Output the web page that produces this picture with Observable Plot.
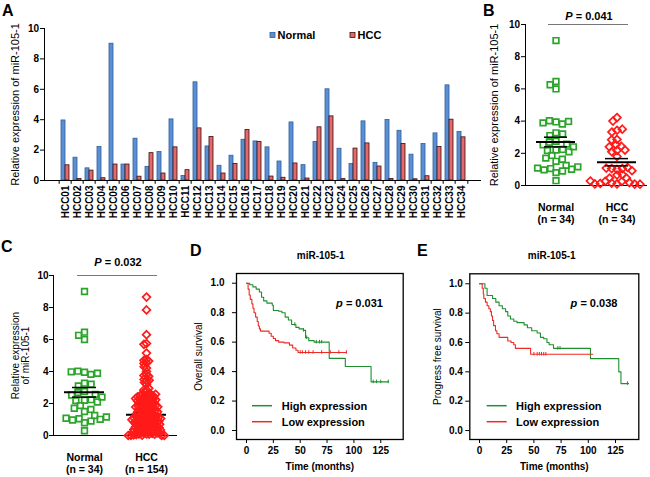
<!DOCTYPE html>
<html><head><meta charset="utf-8">
<script src="https://cdn.jsdelivr.net/npm/d3@7"></script>
<script src="https://cdn.jsdelivr.net/npm/@observablehq/plot@0.6"></script>
<style>
html,body{margin:0;padding:0;background:#fff;}
#fig{position:relative;width:650px;height:477px;overflow:hidden;background:#fff;font-family:"Liberation Sans",Arial,sans-serif;}
.pane{position:absolute;}
.pane svg{background:none !important;overflow:visible;max-width:none !important;}
g[aria-label="y-axis label"]{font-weight:normal;}
.biglab g[aria-label="y-axis label"]{font-size:11px;}
</style>
</head><body><div id="fig"></div>
<script>
// ---------- DATA ----------
const cats = ["HCC01","HCC02","HCC03","HCC04","HCC05","HCC06","HCC07","HCC08","HCC09","HCC10","HCC11","HCC12","HCC13","HCC14","HCC15","HCC16","HCC17","HCC18","HCC19","HCC20","HCC21","HCC22","HCC23","HCC24","HCC25","HCC26","HCC27","HCC28","HCC29","HCC30","HCC31","HCC32","HCC33","HCC34"];
const normalVals = [3.95,1.5,0.8,2.2,9.0,1.05,2.75,0.9,1.87,4.02,0.3,6.46,2.24,0.97,1.63,2.68,2.57,2.18,1.25,3.82,1.01,2.53,6.0,2.09,1.08,3.89,1.16,3.98,3.27,1.7,2.4,3.1,6.26,3.2];
const hccVals = [1.0,0.1,0.65,0.15,1.05,1.05,0.25,1.8,0.46,2.18,0.68,3.43,2.86,0.46,1.08,3.32,2.53,0.26,0.18,1.12,0.13,3.5,4.22,0.09,2.1,2.44,0.92,0.1,2.4,0.08,0.28,2.2,4.0,2.84];
// remaining 120 HCC cohort samples (panel C, n = 154)
const hccCohortExtra = [8.65,7.85,6.3,5.75,5.7,5.15,4.75,4.7,4.65,4.55,4.5,4.3,3.8,3.75,3.7,3.45,3.2,2.95,2.7,
  2.61,2.57,2.54,2.49,2.46,2.42,2.37,2.34,2.29,2.26,2.23,2.16,2.12,2.08,2.05,2.03,2.31,2.58,
  1.99,1.97,1.94,1.91,1.89,1.86,1.83,1.81,1.78,1.76,1.74,1.71,1.68,1.66,1.63,1.61,1.58,1.56,1.54,1.52,1.5,1.79,
  1.48,1.46,1.43,1.4,1.37,1.34,1.31,1.28,1.25,1.22,1.19,1.17,1.14,1.11,1.09,1.06,1.03,1.01,1.36,
  0.99,0.96,0.94,0.91,0.89,0.87,0.84,0.81,0.78,0.76,0.73,0.71,0.67,0.64,0.62,0.59,0.57,0.55,0.53,0.51,0.82,0.7,
  0.49,0.47,0.44,0.41,0.39,0.37,0.35,0.33,0.31,0.23,0.21,0.16,0.12,0.06,0.04,0.02,0.0,0.0,0.0,0.0];
const groups = ["Normal","HCC"];
const statsB = {mean: [2.7, 1.45], hi: [3.0, 1.67], lo: [2.4, 1.22]};
const statsC = {mean: [2.7, 1.3], hi: [3.0, 1.43], lo: [2.4, 1.17]};
const nB = ["(n = 34)", "(n = 34)"];
const nC = ["(n = 34)", "(n = 154)"];
const yTicks10 = [0,2,4,6,8,10];
const survTicks = [0,0.2,0.4,0.6,0.8,1.0];
const timeTicks = [0,25,50,75,100,125];
// D: overall survival
const dHighT = [0,3,6,9,12,14,16,19,24,25,30,33,36,39,42,46,49,53,55,58,63,77,92,116,132];
const dHighS = [1.0,0.99,0.975,0.96,0.94,0.905,0.88,0.865,0.85,0.815,0.81,0.80,0.77,0.75,0.72,0.70,0.69,0.68,0.63,0.61,0.60,0.49,0.435,0.33,0.33];
const dHighCens = [45,53,56,65,68,70,118,121,125,132];
const dLowT = [0,1.5,2.5,3.5,5,6,7,8.5,10,11,12,13,21,23,25,27,30,35,40,43,46,48,93];
const dLowS = [1.0,0.96,0.92,0.89,0.86,0.83,0.80,0.77,0.74,0.71,0.69,0.675,0.66,0.64,0.625,0.61,0.60,0.595,0.58,0.56,0.545,0.53,0.53];
const dLowCens = [50,52,55,58,62,70,78,86,93];
// E: progress free survival
const eHighT = [0,5,7,12,15,18,21,24,26,28.5,31.5,34.5,41,44,48,53,56,59,62,64,68,102,128,130,137];
const eHighS = [1.0,0.97,0.92,0.90,0.875,0.85,0.83,0.81,0.78,0.76,0.745,0.735,0.72,0.70,0.68,0.665,0.635,0.625,0.60,0.585,0.56,0.49,0.40,0.32,0.32];
const eHighCens = [72,74,136];
const eLowT = [0,2.5,3.5,4,5.5,7,8.6,10,11,12,13,14.7,16,18,26,29,31.5,33,47,104];
const eLowS = [1.0,0.97,0.93,0.90,0.875,0.85,0.83,0.81,0.78,0.75,0.715,0.68,0.66,0.635,0.61,0.60,0.585,0.56,0.52,0.52];
const eLowCens = [50,53,55,57,59,61];

// ---------- STYLE ----------
const FONT = '"Liberation Sans", Arial, sans-serif';
const GREEN = "#2aa52a", RED = "#ff1a1a";
const KM_GREEN = "#1f8f2f", KM_RED = "#ee2a24";
const baseStyle = {fontFamily: FONT, fontSize: "10px", fontWeight: "bold", background: "none", overflow: "visible", color: "#000"};
const fig = document.getElementById("fig");
function place(node, left, top, cls) {
  const d = document.createElement("div");
  d.className = "pane" + (cls ? " " + cls : ""); d.style.left = left + "px"; d.style.top = top + "px";
  d.appendChild(node); fig.appendChild(d);
}

// ---------- PANEL A ----------
const aRows = cats.map((c, i) => ({cat: c, normal: normalVals[i], hcc: hccVals[i]}));
const aW = 490, aML = 44, aMR = 9, pIn = 0.37, pOut = 0.42;
const aStep = (aW - aML - aMR) / (cats.length - pIn + 2 * pOut);
const aBW = aStep * (1 - pIn);
place(Plot.plot({
  width: aW, height: 240, marginLeft: aML, marginRight: aMR, marginTop: 28, marginBottom: 60,
  style: baseStyle,
  x: {domain: cats, paddingInner: pIn, paddingOuter: pOut, tickRotate: -90, tickSize: 0, tickPadding: 5, label: null},
  y: {domain: [0, 10], ticks: yTicks10, tickSize: 4, tickPadding: 1.5, line: true,
      label: "Relative expression of miR-105-1", labelAnchor: "center", labelOffset: 33, labelArrow: "none"},
  marks: [
    Plot.barY(aRows, {x: "cat", y: "normal", insetRight: aBW / 2, fill: "#5b8fd4", stroke: "#2f5f9e", strokeWidth: 0.8}),
    Plot.barY(aRows, {x: "cat", y: "hcc", insetLeft: aBW / 2, fill: "#e26a6a", stroke: "#3b0d0d", strokeWidth: 0.8}),
    Plot.ruleY([0]),
    Plot.ruleX(cats, {x: d => d, y1: 0, y2: -0.25, dx: -aStep / 2}),
    Plot.ruleX(cats.slice(-1), {x: d => d, y1: 0, y2: -0.25, dx: aStep / 2})
  ]
}), 0, 0, "biglab");

// ---------- SCATTER PANELS (B, C) ----------
function scatter(o) {
  const nRows = o.normal.map(v => ({g: "Normal", v}));
  const hRows = o.hcc.map(v => ({g: "HCC", v}));
  const st = groups.map((g, i) => ({g, mean: o.stats.mean[i], hi: o.stats.hi[i], lo: o.stats.lo[i]}));
  const lab = groups.map((g, i) => ({g, t: g + "\n" + o.nLab[i]}));
  const statMarks = (rows) => [
    Plot.ruleX(rows, {fx: "g", y1: "lo", y2: "hi", stroke: "#000", strokeWidth: 1.5}),
    Plot.ruleY(rows, {fx: "g", y: "mean", insetLeft: o.mi, insetRight: o.mi, stroke: "#000", strokeWidth: 2}),
    Plot.ruleY(rows, {fx: "g", y: "hi", insetLeft: o.si, insetRight: o.si, stroke: "#000", strokeWidth: 1.5}),
    Plot.ruleY(rows, {fx: "g", y: "lo", insetLeft: o.si, insetRight: o.si, stroke: "#000", strokeWidth: 1.5})
  ];
  const below = o.statsBelowHcc ? st.filter(d => d.g === "HCC") : [];
  const above = o.statsBelowHcc ? st.filter(d => d.g !== "HCC") : st;
  return Plot.plot({
    width: o.width, height: o.height, marginLeft: o.ml, marginRight: o.mr, marginTop: o.mt, marginBottom: o.mb,
    style: baseStyle,
    fx: {domain: groups, padding: 0, axis: null, label: null},
    y: {domain: [0, 10], ticks: yTicks10, tickSize: 4, tickPadding: o.tp, line: true,
        label: o.yLabel, labelAnchor: "center", labelOffset: o.lo, labelArrow: "none"},
    marks: [
      Plot.ruleY([0]),
      Plot.ruleY([{g: "Normal", y: 10}], {fx: "g", y: "y", insetLeft: o.br[0], stroke: "#777"}),
      Plot.ruleY([{g: "HCC", y: 10}], {fx: "g", y: "y", insetRight: o.br[1], stroke: "#777"}),
      ...statMarks(below),
      Plot.dot(nRows, Plot.dodgeX({anchor: "middle", ...o.dodgeN}, {fx: "g", y: "v", symbol: "square", r: 3.2, fill: "none", stroke: GREEN, strokeWidth: 1.7})),
      Plot.dot(hRows, Plot.dodgeX({anchor: "middle", ...o.dodgeH}, {fx: "g", y: "v", symbol: "diamond2", r: 3.5, fill: "none", stroke: RED, strokeWidth: 1.7})),
      ...statMarks(above),
      Plot.text(lab, {fx: "g", text: "t", frameAnchor: "bottom", lineAnchor: "top", dy: o.ldy, fontSize: 10.5, lineHeight: 1.22})
    ]
  });
}
place(scatter({width: 170, height: 232, ml: 45, mr: 3, mt: 24, mb: 47, tp: 1.5, lo: 35,
  yLabel: "Relative expression of miR-105-1", normal: normalVals, hcc: hccVals, stats: statsB, nLab: nB,
  dodgeN: {padding: 0.3}, dodgeH: {padding: -1.6}, br: [23, 19], mi: 11, si: 19, ldy: 16}), 480, 0, "biglab");
place(scatter({width: 185, height: 237, ml: 53, mr: 8, mt: 35, mb: 42, tp: 1, lo: 42,
  yLabel: "Relative expression\nof miR-105-1", normal: normalVals, hcc: hccVals.concat(hccCohortExtra), stats: statsC, nLab: nC,
  dodgeN: {padding: 0.3}, dodgeH: {padding: 0, r: 1.35}, br: [24, 20], mi: 11, si: 19, ldy: 16, statsBelowHcc: true}), 0, 240);

// ---------- KM PANELS (D, E) ----------
function stepRows(T, S) { return T.map((t, i) => ({t, s: S[i]})); }
function censRows(C, T, S) { return C.map(t => ({t, s: S[Math.max(0, d3.bisectRight(T, t) - 1)]})); }
function km(o) {
  return Plot.plot({
    width: o.width, height: 237, marginLeft: o.ml, marginRight: o.mr, marginTop: o.mt, marginBottom: o.mb,
    style: baseStyle,
    x: {domain: o.xd, ticks: timeTicks, tickSize: 4, tickPadding: 3, label: "Time (months)", labelAnchor: "center", labelOffset: 30, labelArrow: "none"},
    y: {domain: o.yd, ticks: survTicks, tickFormat: ".1f", tickSize: 4, tickPadding: o.tp, label: o.yLabel, labelAnchor: "center", labelOffset: o.lo, labelArrow: "none"},
    marks: [
      Plot.frame({stroke: "#000", strokeWidth: 1.3}),
      Plot.line(o.high, {x: "t", y: "s", curve: "step-after", stroke: KM_GREEN, strokeWidth: 1.1}),
      Plot.line(o.low, {x: "t", y: "s", curve: "step-after", stroke: KM_RED, strokeWidth: 1.1}),
      Plot.ruleX(o.highC, {x: "t", y1: d => d.s - 0.012, y2: d => d.s + 0.012, stroke: KM_GREEN}),
      Plot.ruleX(o.lowC, {x: "t", y1: d => d.s - 0.012, y2: d => d.s + 0.012, stroke: KM_RED})
    ]
  });
}
place(km({width: 225, ml: 46, mr: 12.3, mt: 33, mb: 38, tp: 8, lo: 42, xd: [-9.3, 145.9], yd: [-0.061, 1.066], yLabel: "Overall survival",
  high: stepRows(dHighT, dHighS), low: stepRows(dLowT, dLowS), highC: censRows(dHighCens, dHighT, dHighS), lowC: censRows(dLowCens, dLowT, dLowS)}), 190, 240);
place(km({width: 225, ml: 44.3, mr: 11.7, mt: 33.3, mb: 38, tp: 3, lo: 36, xd: [-8.9, 146.4], yd: [-0.061, 1.068], yLabel: "Progress free survival",
  high: stepRows(eHighT, eHighS), low: stepRows(eLowT, eLowS), highC: censRows(eHighCens, eHighT, eHighS), lowC: censRows(eLowCens, eLowT, eLowS)}), 425, 240);

// ---------- ANNOTATIONS ----------
const ov = d3.create("svg").attr("width", 650).attr("height", 477)
  .style("position", "absolute").style("left", "0px").style("top", "0px").style("pointer-events", "none")
  .attr("font-family", FONT).attr("font-weight", "bold");
[["A", 2, 16], ["B", 483, 16], ["C", 1, 252], ["D", 190, 256], ["E", 417, 256]].forEach(([t, x, y]) =>
  ov.append("text").attr("x", x).attr("y", y).attr("font-size", 16).text(t));
// legend A
[["Normal", 270, "#5b8fd4", "#2f5f9e"], ["HCC", 350, "#e26a6a", "#3b0d0d"]].forEach(([t, x, f, s]) => {
  ov.append("rect").attr("x", x).attr("y", 32.5).attr("width", 5).attr("height", 5).attr("fill", f).attr("stroke", s).attr("stroke-width", 0.8);
  ov.append("text").attr("x", x + 7.5).attr("y", 39).attr("font-size", 11).text(t);
});
// p-values
function pText(x, y, letter, rest) {
  const t = ov.append("text").attr("x", x).attr("y", y).attr("font-size", 11).attr("text-anchor", "middle");
  t.append("tspan").attr("font-style", "italic").text(letter);
  t.append("tspan").text(rest);
}
pText(589, 20, "P", " = 0.041");
pText(118, 266, "P", " = 0.032");
pText(359.5, 307, "p", " = 0.031");
pText(594, 307, "p", " = 0.038");
// KM titles
[[320.7, "miR-105-1"], [551.7, "miR-105-1"]].forEach(([x, t]) =>
  ov.append("text").attr("x", x).attr("y", 259).attr("font-size", 10).attr("text-anchor", "middle").text(t));
// KM legends
[[252, 281.7], [486.7, 516]].forEach(([x, tx]) => {
  [["High expression", KM_GREEN, 405.7], ["Low expression", KM_RED, 421.7]].forEach(([t, c, y]) => {
    ov.append("line").attr("x1", x).attr("x2", x + 20).attr("y1", y).attr("y2", y).attr("stroke", c).attr("stroke-width", 1.5);
    ov.append("text").attr("x", tx).attr("y", y + 3.8).attr("font-size", 11).text(t);
  });
});
fig.appendChild(ov.node());
</script></body></html>
